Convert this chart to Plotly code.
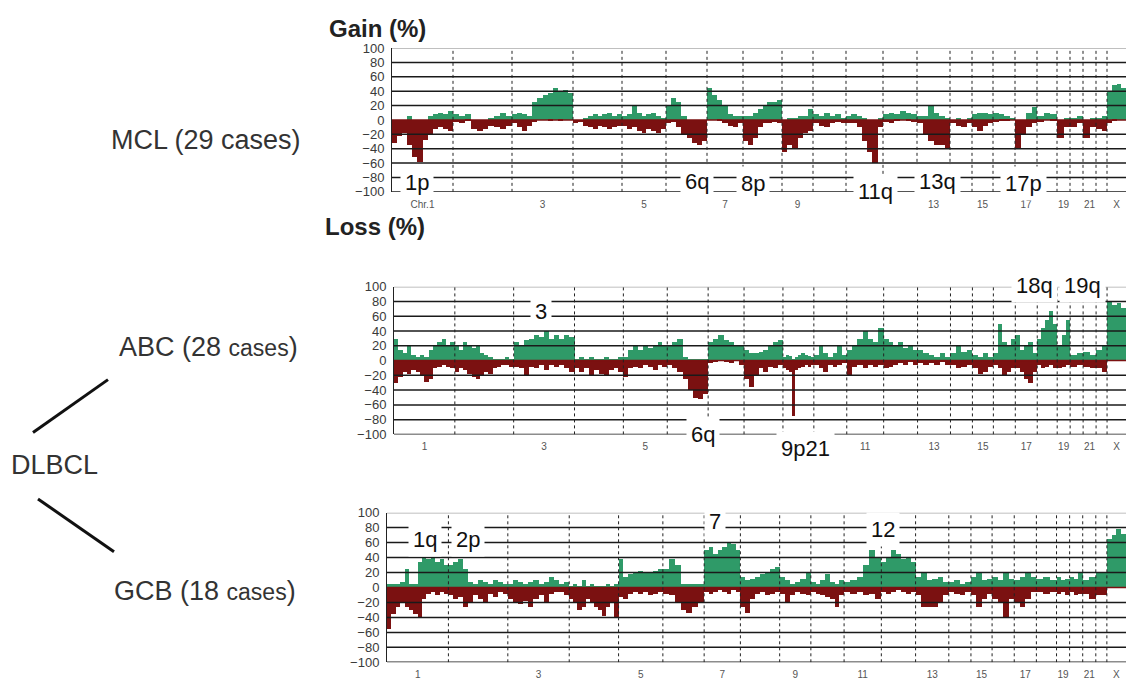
import plotly.graph_objects as go

W, H = 1126, 684

CHROMS = ["1", "2", "3", "4", "5", "6", "7", "8", "9", "10", "11", "12",
          "13", "14", "15", "16", "17", "18", "19", "20", "21", "22", "X"]
CHROM_LEN = [61, 59, 61, 49, 44, 41, 36, 39, 31, 33, 37, 34, 33, 22, 21, 22, 22, 20, 13, 13, 13, 11, 19]
TICK_CHROMS = ["1", "3", "5", "7", "9", "11", "13", "15", "17", "19", "21", "X"]

# ---------------- MCL (29 cases) ----------------
MCL_GAIN = [
    [0, 0, 0, 5, 0, 0, 0, 5, 8, 10, 8, 12],
    [8, 5, 8, 0, 0, 0, 3, 5, 10, 5],
    [8, 10, 8, 5, 25, 30, 35, 38, 45, 40, 42, 38],
    [0, 0, 2, 5, 8, 5, 8, 10, 5, 8],
    [5, 8, 20, 10, 5, 8, 10, 5, 3],
    [20, 30, 25, 5, 0, 0, 0, 0],
    [45, 35, 28, 20, 8, 5, 5],
    [5, 5, 10, 15, 20, 25, 25, 28],
    [0, 2, 3, 5, 5, 15],
    [8, 5, 10, 5, 8, 3],
    [5, 8, 5, 3, 0, 0, 3],
    [8, 10, 8, 12, 10, 8],
    [5, 5, 20, 10, 5, 3],
    [0, 2, 0, 3],
    [8, 10, 10, 8],
    [10, 8, 5, 3],
    [0, 0, 10, 18],
    [5, 10, 8],
    [0, 3],
    [3, 5],
    [0, 2],
    [3, 5],
    [40, 48, 50, 45],
]
MCL_LOSS = [
    [32, 22, 18, 35, 52, 58, 28, 20, 12, 10, 12, 15],
    [3, 5, 2, 12, 15, 12, 8, 10, 12, 8],
    [5, 10, 15, 8, 3, 0, 0, 2, 0, 2, 0, 0],
    [5, 3, 8, 10, 12, 8, 10, 12, 10, 8],
    [8, 12, 10, 15, 18, 12, 15, 18, 12],
    [5, 3, 10, 20, 25, 32, 35, 30],
    [0, 0, 2, 5, 8, 10, 5],
    [30, 35, 25, 10, 5, 5, 3, 5],
    [45, 35, 40, 25, 18, 15],
    [5, 8, 10, 5, 3, 5],
    [5, 5, 10, 30, 45, 60, 10],
    [3, 5, 2, 0, 2, 3],
    [5, 20, 30, 35, 35, 40],
    [5, 8, 10, 5],
    [10, 15, 8, 5],
    [3, 2, 2, 0],
    [40, 20, 10, 5],
    [3, 0, 2],
    [25, 10],
    [10, 5],
    [25, 10],
    [12, 15],
    [5, 2, 0, 0],
]

# ---------------- ABC (28 cases) ----------------
ABC_GAIN = [
    [30, 15, 10, 20, 8, 5, 8, 5, 15, 20, 25, 30, 20, 25],
    [20, 15, 25, 20, 18, 22, 10, 8, 5, 3, 2, 3, 5, 3],
    [25, 22, 28, 30, 35, 32, 40, 30, 35, 30, 35, 32],
    [3, 5, 3, 5, 3, 3, 5, 3, 2, 5],
    [5, 15, 20, 15, 22, 18, 20, 25, 20],
    [20, 25, 30, 5, 3, 2, 3, 3],
    [25, 30, 35, 28, 25, 22, 20],
    [15, 10, 10, 12, 15, 20, 25, 28],
    [5, 8, 6, 3, 5, 8, 10, 8, 6, 5],
    [8, 20, 10, 5, 10, 20, 8],
    [15, 20, 30, 40, 30, 25, 45],
    [30, 25, 20, 25, 18, 20, 15],
    [15, 10, 8, 5, 10, 5],
    [10, 20, 12, 15],
    [8, 5, 10, 5],
    [10, 50, 25, 20, 30],
    [35, 15, 20, 25, 10],
    [30, 45, 55, 68, 50],
    [20, 35, 55],
    [8, 10],
    [12, 8],
    [15, 20],
    [80, 75, 78, 72],
]
ABC_LOSS = [
    [30, 22, 15, 18, 12, 15, 20, 28, 25, 10, 8, 5, 8, 10],
    [15, 10, 12, 18, 22, 25, 20, 15, 18, 10, 8, 5, 5, 8],
    [8, 10, 20, 8, 10, 5, 12, 5, 8, 5, 10, 15],
    [10, 15, 10, 20, 12, 18, 20, 12, 10, 15],
    [22, 10, 8, 10, 5, 8, 12, 5, 8],
    [5, 10, 15, 25, 40, 50, 52, 45],
    [3, 2, 0, 2, 3, 0, 5],
    [25, 35, 20, 10, 15, 8, 10, 5],
    [10, 12, 15, 75, 12, 10, 8, 5, 8, 5],
    [5, 10, 15, 5, 8, 5, 3],
    [20, 8, 5, 10, 5, 8, 5],
    [10, 8, 5, 3, 5, 2, 5],
    [3, 5, 3, 5, 2, 5],
    [5, 10, 8, 5],
    [10, 18, 15, 8],
    [5, 10, 20, 15, 10],
    [10, 15, 25, 30, 15],
    [5, 10, 8, 5, 10],
    [10, 8, 5],
    [8, 5],
    [8, 10],
    [10, 15],
    [0, 0, 0, 0],
]

# ---------------- GCB (18 cases) ----------------
GCB_GAIN = [
    [5, 5, 5, 8, 25, 5, 5, 35, 40, 38, 40, 35, 38, 30],
    [30, 35, 38, 25, 8, 5, 10, 8, 5, 10, 8, 5],
    [5, 10, 8, 5, 8, 10, 5, 8, 15, 10, 5, 8],
    [3, 5, 2, 10, 3, 5, 2, 3, 2, 5, 3, 5],
    [38, 15, 18, 20, 22, 20, 20, 22, 25],
    [25, 38, 30, 5, 5, 5, 5],
    [50, 55, 45, 50, 55, 60, 58, 50],
    [15, 10, 12, 15, 18, 20, 25, 28],
    [15, 10, 5, 8, 12, 20],
    [8, 5, 10, 18, 8, 5, 10],
    [8, 10, 15, 30, 50, 40],
    [35, 40, 50, 45, 38, 40, 35],
    [15, 20, 10, 12, 15, 8],
    [8, 10, 5, 8],
    [15, 20, 10, 12],
    [15, 10, 20, 12],
    [10, 15, 20, 15],
    [12, 15, 10],
    [15, 10, 12],
    [15, 12, 20],
    [10, 15],
    [20],
    [65, 70, 78, 72],
]
GCB_LOSS = [
    [55, 35, 25, 20, 25, 30, 35, 40, 15, 8, 5, 10, 5, 8],
    [10, 15, 12, 25, 20, 10, 15, 20, 8, 12, 5, 8],
    [15, 20, 22, 18, 25, 15, 10, 20, 8, 5, 5, 10],
    [15, 20, 30, 25, 15, 20, 25, 30, 38, 25, 20, 40],
    [12, 15, 8, 5, 8, 5, 10, 8, 5],
    [8, 10, 20, 30, 33, 25, 20],
    [5, 8, 5, 3, 5, 8, 3, 5],
    [25, 33, 15, 8, 5, 10, 8, 5],
    [8, 20, 10, 5, 8, 10],
    [5, 8, 10, 12, 15, 25, 10],
    [5, 8, 5, 10, 8, 15],
    [5, 8, 5, 3, 5, 8, 5],
    [10, 25, 25, 25, 20, 10],
    [5, 8, 10, 5],
    [10, 25, 15, 8],
    [15, 20, 40, 15],
    [20, 25, 15, 5],
    [5, 8, 5],
    [8, 5, 10],
    [5, 10, 8],
    [8, 15],
    [10],
    [0, 0, 0, 0],
]

GAIN_COLOR = "#2f9a68"
LOSS_COLOR = "#7b1111"
FONT = "Liberation Sans, Arial, sans-serif"

TOTAL = sum(CHROM_LEN)
starts = []
acc = 0
for L in CHROM_LEN:
    starts.append(acc)
    acc += L
boundaries = starts[1:]
centers = {c: s + L / 2 for c, s, L in zip(CHROMS, starts, CHROM_LEN)}


def to_bins(per_chrom, sign):
    xs, ws, vs = [], [], []
    for s, L, vals in zip(starts, CHROM_LEN, per_chrom):
        n = len(vals)
        w = L / n
        for k, v in enumerate(vals):
            xs.append(s + (k + 0.5) * w)
            ws.append(w)
            vs.append(sign * v)
    return xs, ws, vs


def px(x):
    return x / W


def py(y):
    return 1 - y / H


# panel geometry: (left px, top px for 100, bottom px for -100), first tick label, ticks hidden by label boxes
panels = [
    ("MCL", MCL_GAIN, MCL_LOSS, 392, 42, 189, "Chr.1", ["11"]),
    ("ABC", ABC_GAIN, ABC_LOSS, 394, 286, 437, "1", ["7", "9"]),
    ("GCB", GCB_GAIN, GCB_LOSS, 387, 517, 670, "1", []),
]

fig = go.Figure()
shapes = []
layout_axes = {}
for i, (name, gain, loss, left, top, bot, first_lbl, hidden) in enumerate(panels):
    sfx = "" if i == 0 else str(i + 1)
    xa, ya = "x" + sfx, "y" + sfx
    gx, gw, gv = to_bins(gain, 1)
    lx, lw, lv = to_bins(loss, -1)
    fig.add_trace(go.Bar(x=gx, y=gv, width=gw, marker=dict(color=GAIN_COLOR, line=dict(width=0)),
                         xaxis=xa, yaxis=ya, showlegend=False, name=name + " gain"))
    fig.add_trace(go.Bar(x=lx, y=lv, width=lw, marker=dict(color=LOSS_COLOR, line=dict(width=0)),
                         xaxis=xa, yaxis=ya, showlegend=False, name=name + " loss"))
    shown = [c for c in TICK_CHROMS if c not in hidden]
    tickvals = [centers[c] for c in shown]
    ticktext = [first_lbl if c == "1" else c for c in shown]
    layout_axes["xaxis" + sfx] = dict(
        domain=[px(left), 1.0], range=[0, TOTAL], anchor=ya,
        showgrid=False, zeroline=False, showline=False, ticks="",
        tickvals=tickvals, ticktext=ticktext, ticklabelstandoff=5,
        tickfont=dict(size=10, color="#555", family=FONT), fixedrange=True)
    layout_axes["yaxis" + sfx] = dict(
        domain=[py(bot), py(top)], range=[-100, 100], anchor=xa,
        showgrid=False, zeroline=False, showline=True, linecolor="#222", linewidth=1,
        ticks="", tickvals=list(range(-100, 101, 20)), ticklabelstandoff=4,
        tickfont=dict(size=13, color="#3a3a3a", family=FONT), fixedrange=True)
    for v in range(-100, 101, 20):
        if v == 0:
            continue
        shapes.append(dict(type="line", xref=xa, yref=ya, x0=0, x1=TOTAL, y0=v, y1=v,
                           line=dict(color="#aaaaaa" if v == 100 else "#1a1a1a", width=1.5),
                           layer="above"))
    shapes.append(dict(type="line", xref=xa, yref=ya, x0=0, x1=TOTAL, y0=0, y1=0,
                       line=dict(color=LOSS_COLOR, width=1.5), layer="above"))
    for b in boundaries:
        shapes.append(dict(type="line", xref=xa, yref=ya, x0=b, x1=b, y0=-100, y1=100,
                           line=dict(color="#222", width=1, dash="dot"), layer="above"))

# left-side tree lines
shapes.append(dict(type="line", xref="paper", yref="paper", x0=px(33), y0=py(435), x1=px(108), y1=py(381),
                   line=dict(color="#111", width=3)))
shapes.append(dict(type="line", xref="paper", yref="paper", x0=px(38), y0=py(503), x1=px(114), y1=py(557),
                   line=dict(color="#111", width=3)))

annotations = []


def txt(x, y, text, size, bold=False, bg=None, pad=2, color="#222"):
    annotations.append(dict(
        x=px(x), y=py(y), xref="paper", yref="paper", text=("<b>%s</b>" % text) if bold else text,
        showarrow=False, xanchor="center", yanchor="middle",
        font=dict(size=size, color=color, family=FONT),
        bgcolor=bg, borderpad=pad))


txt(206, 136, "MCL (29 cases)", 27, color="#333")
txt(208, 348, "ABC (28 <span style='font-size:23px'>cases</span>)", 27, color="#333")
txt(54, 468, "DLBCL", 27, color="#333")
txt(205, 597, "GCB (18 <span style='font-size:23px'>cases</span>)", 27, color="#333")
txt(377, 22, "Gain (%)", 24, bold=True, color="#222")
txt(375, 224, "Loss (%)", 24, bold=True, color="#222")

# labels inside panels (white boxes)
inside = [
    (417, 179, "1p"), (697, 178, "6q"), (753, 180, "8p"), (875, 189, "11q"),
    (937, 178, "13q"), (1023, 180, "17p"),
    (541, 311, "3"), (703, 437, "6q"), (805, 451, "9p21"), (1034, 285, "18q"), (1082, 285, "19q"),
    (425, 544, "1q"), (468, 544, "2p"), (715, 526, "7"), (883, 534, "12"),
]
for x, y, t in inside:
    txt(x, y, t, 22, bg="white", pad=4, color="#111")

fig.update_layout(
    width=W, height=H, margin=dict(l=0, r=0, t=0, b=0),
    paper_bgcolor="white", plot_bgcolor="white",
    barmode="overlay", bargap=0,
    shapes=shapes, annotations=annotations,
    font=dict(family=FONT),
    **layout_axes,
)

fig.write_html("out.html")
